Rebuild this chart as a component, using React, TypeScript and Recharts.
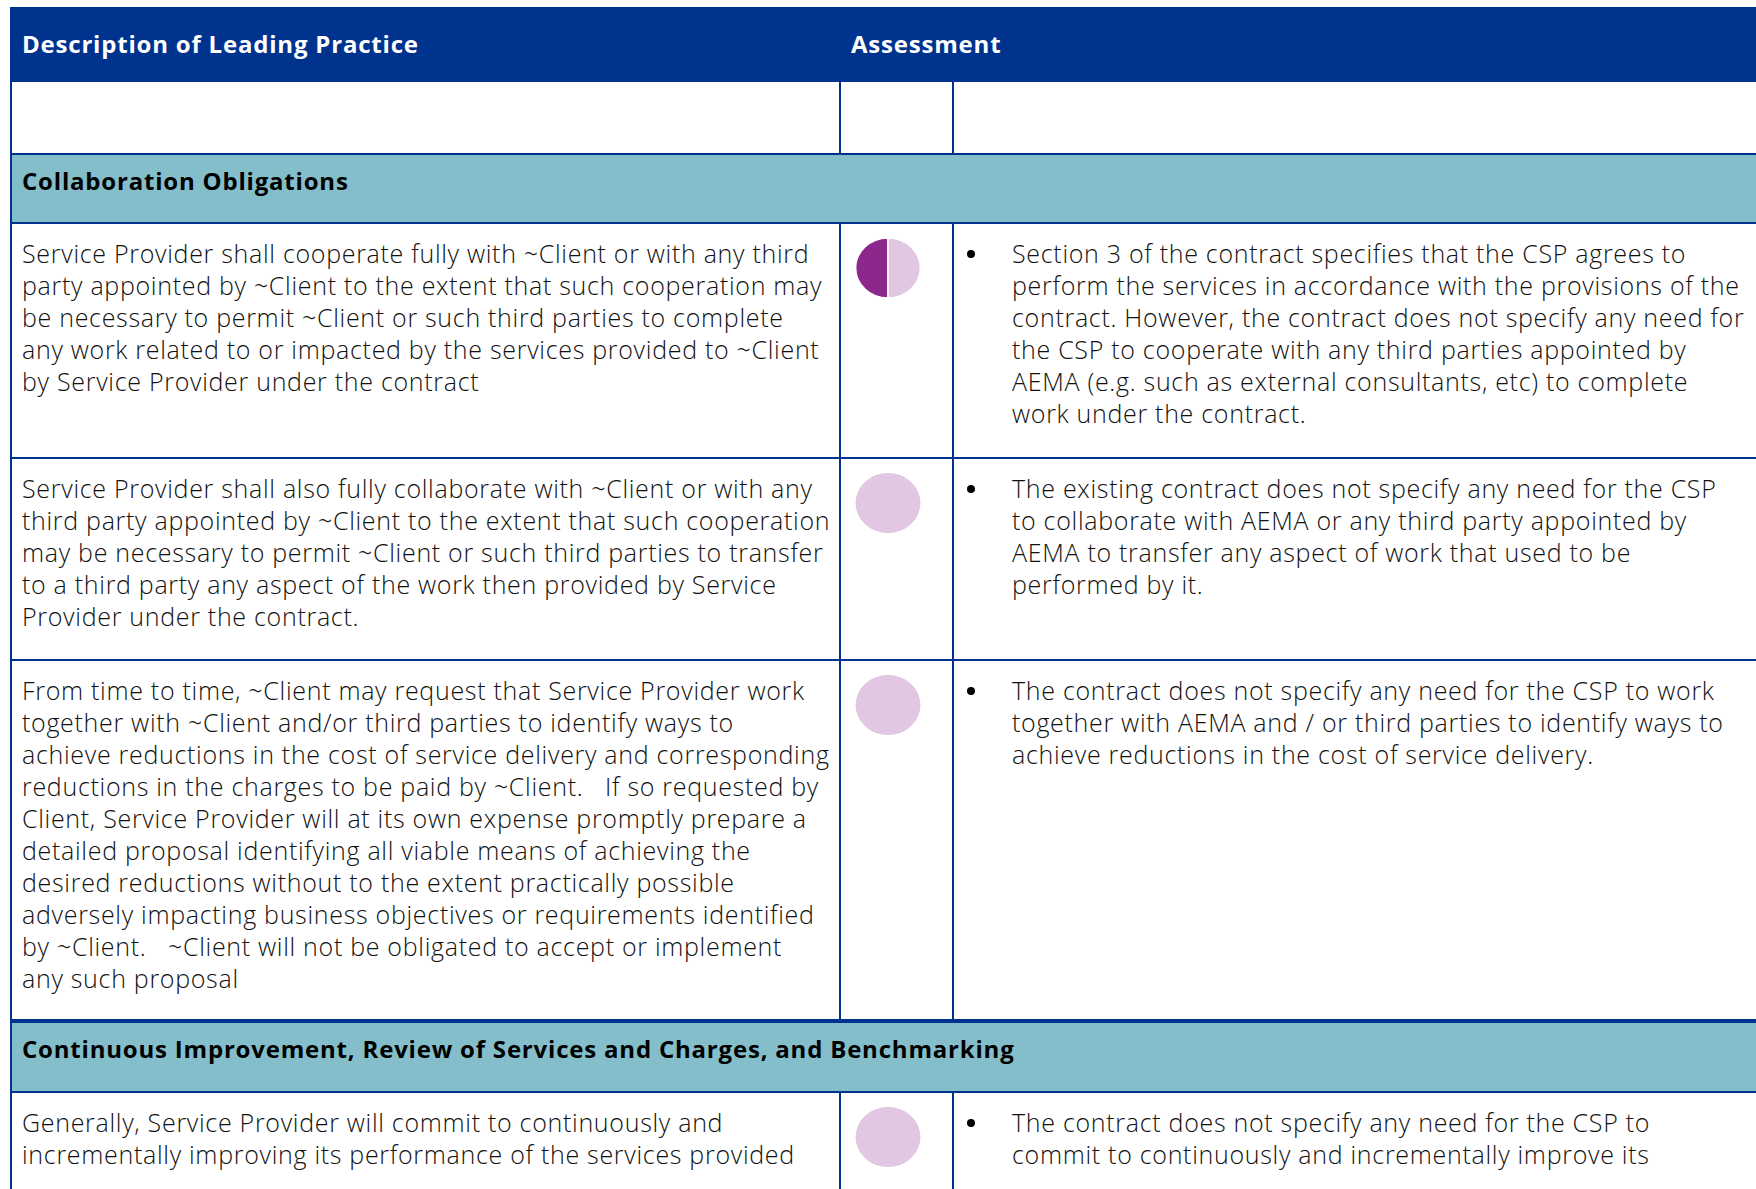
import { Pie, PieChart, Cell } from "recharts";

const headerLabels = ["Description of Leading Practice", "Assessment"];

const sectionTitles = [
  "Collaboration Obligations",
  "Continuous Improvement, Review of Services and Charges, and Benchmarking",
];

const practiceLines = [
  [
    "Service Provider shall cooperate fully with ~Client or with any third",
    "party appointed by ~Client to the extent that such cooperation may",
    "be necessary to permit ~Client or such third parties to complete",
    "any work related to or impacted by the services provided to ~Client",
    "by Service Provider under the contract",
  ],
  [
    "Service Provider shall also fully collaborate with ~Client or with any",
    "third party appointed by ~Client to the extent that such cooperation",
    "may be necessary to permit ~Client or such third parties to transfer",
    "to a third party any aspect of the work then provided by Service",
    "Provider under the contract.",
  ],
  [
    "From time to time, ~Client may request that Service Provider work",
    "together with ~Client and/or third parties to identify ways to",
    "achieve reductions in the cost of service delivery and corresponding",
    "reductions in the charges to be paid by ~Client.   If so requested by",
    "Client, Service Provider will at its own expense promptly prepare a",
    "detailed proposal identifying all viable means of achieving the",
    "desired reductions without to the extent practically possible",
    "adversely impacting business objectives or requirements identified",
    "by ~Client.   ~Client will not be obligated to accept or implement",
    "any such proposal",
  ],
  [
    "Generally, Service Provider will commit to continuously and",
    "incrementally improving its performance of the services provided",
  ],
];

const assessmentLines = [
  [
    "Section 3 of the contract specifies that the CSP agrees to",
    "perform the services in accordance with the provisions of the",
    "contract. However, the contract does not specify any need for",
    "the CSP to cooperate with any third parties appointed by",
    "AEMA (e.g. such as external consultants, etc) to complete",
    "work under the contract.",
  ],
  [
    "The existing contract does not specify any need for the CSP",
    "to collaborate with AEMA or any third party appointed by",
    "AEMA to transfer any aspect of work that used to be",
    "performed by it.",
  ],
  [
    "The contract does not specify any need for the CSP to work",
    "together with AEMA and / or third parties to identify ways to",
    "achieve reductions in the cost of service delivery.",
  ],
  [
    "The contract does not specify any need for the CSP to",
    "commit to continuously and incrementally improve its",
  ],
];

// harvey ball fill, out of ratingMax quarters
const ratingScores = [2, 0, 0, 0];
const ratingMax = 4;

const BLUE = "#00338D";
const TEAL = "#83BECA";
const DARK_PURPLE = "#8C278C";
const LIGHT_PURPLE = "#E1C7E2";
const FONT = "'Open Sans', 'Liberation Sans', Arial, sans-serif";

// row layout (top, height) in page pixels
const layout = [
  { kind: "header", top: 7, h: 75 },
  { kind: "blank", top: 82, h: 71 },
  { kind: "section", idx: 0, top: 153, h: 71 },
  { kind: "item", idx: 0, top: 224, h: 235 },
  { kind: "item", idx: 1, top: 459, h: 202 },
  { kind: "item", idx: 2, top: 661, h: 360 },
  { kind: "section", idx: 1, top: 1021, h: 72 },
  { kind: "item", idx: 3, top: 1093, h: 140 },
];

const LEFT = 10;
const COL1 = 838;
const COL2 = 951;
const RIGHT = 1756;

function HarveyBall({ score }: { score: number }) {
  const data = [
    { name: "met", value: score },
    { name: "gap", value: ratingMax - score },
  ];
  return (
    <div style={{ transform: "scaleX(1.08)", transformOrigin: "center" }}>
      <PieChart width={62} height={62}>
        <Pie
          data={data}
          dataKey="value"
          cx="50%"
          cy="50%"
          outerRadius={30}
          startAngle={90}
          endAngle={450}
          stroke="#ffffff"
          strokeWidth={score > 0 && score < ratingMax ? 1.5 : 0}
          isAnimationActive={false}
        >
          <Cell fill={DARK_PURPLE} />
          <Cell fill={LIGHT_PURPLE} />
        </Pie>
      </PieChart>
    </div>
  );
}

const bodyText: React.CSSProperties = {
  fontFamily: FONT,
  fontWeight: 300,
  fontSize: 25,
  letterSpacing: "0.7px",
  lineHeight: "32px",
  color: "#111",
  whiteSpace: "pre",
};

const boldText: React.CSSProperties = {
  fontFamily: FONT,
  fontWeight: 700,
  fontSize: 24,
  letterSpacing: "0.8px",
  lineHeight: "32px",
  whiteSpace: "pre",
};

export default function App() {
  return (
    <div
      style={{
        position: "absolute",
        left: 0,
        top: 0,
        width: 1756,
        height: 1189,
        overflow: "hidden",
        background: "#fff",
      }}
    >
      {layout.map((row, i) => {
        if (row.kind === "header") {
          return (
            <div
              key={i}
              style={{
                position: "absolute",
                left: LEFT,
                top: row.top,
                width: RIGHT - LEFT,
                height: row.h,
                background: BLUE,
                color: "#fff",
              }}
            >
              <div style={{ ...boldText, position: "absolute", left: 12, top: 21 }}>
                {headerLabels[0]}
              </div>
              <div style={{ ...boldText, position: "absolute", left: 841, top: 21 }}>
                {headerLabels[1]}
              </div>
            </div>
          );
        }
        if (row.kind === "section") {
          return (
            <div
              key={i}
              style={{
                position: "absolute",
                left: LEFT,
                top: row.top,
                width: RIGHT - LEFT,
                height: row.h,
                background: TEAL,
                borderTop: `2px solid ${BLUE}`,
                borderBottom: `2px solid ${BLUE}`,
                borderLeft: `2px solid ${BLUE}`,
                boxSizing: "border-box",
              }}
            >
              <div style={{ ...boldText, color: "#000", position: "absolute", left: 10, top: 10 }}>
                {sectionTitles[row.idx!]}
              </div>
            </div>
          );
        }
        const idx = row.idx ?? -1;
        return (
          <div
            key={i}
            style={{
              position: "absolute",
              left: LEFT,
              top: row.top,
              width: RIGHT - LEFT,
              height: row.h,
              borderLeft: `2px solid ${BLUE}`,
              borderBottom: row.kind === "item" ? `2px solid ${BLUE}` : "none",
              boxSizing: "border-box",
            }}
          >
            <div
              style={{
                position: "absolute",
                left: COL1 - LEFT - 1,
                top: 0,
                width: 2,
                height: "100%",
                background: BLUE,
              }}
            />
            <div
              style={{
                position: "absolute",
                left: COL2 - LEFT - 1,
                top: 0,
                width: 2,
                height: "100%",
                background: BLUE,
              }}
            />
            {idx >= 0 && (
              <>
                <div style={{ ...bodyText, position: "absolute", left: 10, top: 13 }}>
                  {practiceLines[idx].map((l, j) => (
                    <div key={j}>{l}</div>
                  ))}
                </div>
                <div style={{ position: "absolute", left: 845, top: 13 }}>
                  <HarveyBall score={ratingScores[idx]} />
                </div>
                <div
                  style={{
                    position: "absolute",
                    left: 955,
                    top: 26,
                    width: 8,
                    height: 8,
                    borderRadius: "50%",
                    background: "#000",
                  }}
                />
                <div style={{ ...bodyText, position: "absolute", left: 1000, top: 13 }}>
                  {assessmentLines[idx].map((l, j) => (
                    <div key={j}>{l}</div>
                  ))}
                </div>
              </>
            )}
          </div>
        );
      })}
    </div>
  );
}
